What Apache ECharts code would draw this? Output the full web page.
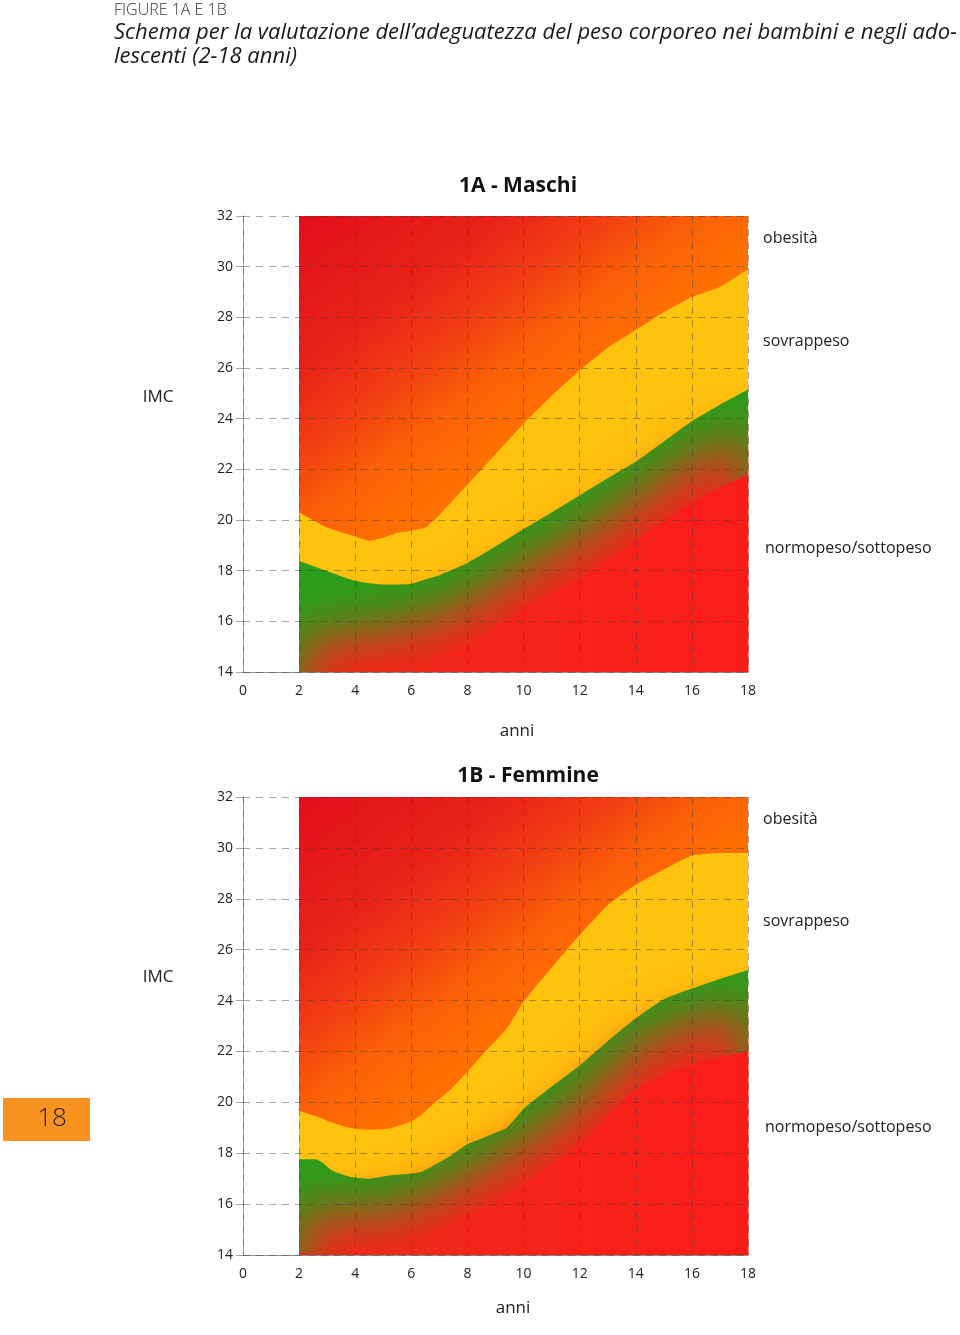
<!DOCTYPE html>
<html>
<head>
<meta charset="utf-8">
<script src="https://cdn.jsdelivr.net/npm/echarts@6/dist/echarts.min.js"></script>
<style>
html,body{margin:0;padding:0;background:#fff;}
#c{width:960px;height:1335px;}
</style>
</head>
<body>
<div id="c"></div>
<script>
// ---------- data ----------
const xTicks = [0, 2, 4, 6, 8, 10, 12, 14, 16, 18];
const yTicks = [14, 16, 18, 20, 22, 24, 26, 28, 30, 32];

// 1A - Maschi
const ageA   = [2, 3, 4, 4.5, 5, 5.5, 6, 6.5, 7, 8, 9, 10, 11, 12, 13, 14, 15, 16, 17, 18];
const obeseA = [20.3, 19.7, 19.35, 19.18, 19.3, 19.5, 19.58, 19.7, 20.2, 21.4, 22.6, 23.8, 24.9, 25.9, 26.8, 27.5, 28.2, 28.8, 29.2, 29.9];
const overA  = [18.38, 17.98, 17.6, 17.5, 17.45, 17.45, 17.48, 17.65, 17.82, 18.3, 18.95, 19.64, 20.3, 20.97, 21.65, 22.3, 23.1, 23.9, 24.55, 25.15];

// 1B - Femmine
const ageB   = [2, 2.6, 2.9, 3.2, 3.8, 4.5, 5.2, 6, 6.3, 6.7, 7.4, 8, 8.6, 9.4, 10, 11, 12, 13, 14, 15, 16, 17, 18];
const obeseB = [19.67, 19.45, 19.33, 19.2, 19.0, 18.92, 18.97, 19.25, 19.45, 19.85, 20.5, 21.2, 21.95, 22.9, 23.95, 25.3, 26.58, 27.75, 28.55, 29.15, 29.7, 29.8, 29.8];
const overB  = [17.76, 17.76, 17.57, 17.3, 17.08, 17.0, 17.12, 17.2, 17.25, 17.46, 17.9, 18.36, 18.62, 19.0, 19.74, 20.62, 21.45, 22.4, 23.3, 24.05, 24.47, 24.85, 25.2];

// line below which the lower band has turned fully red
const ageT   = [2, 4, 6, 8, 10, 12, 14, 16, 18];
const transA = [13.6, 13.9, 14.3, 15.1, 16.5, 17.7, 19.2, 20.7, 21.8];
const transB = [14.1, 14.0, 14.4, 15.5, 16.8, 18.4, 20.5, 21.5, 22.0];

// ---------- texts ----------
const headLine1 = 'FIGURE 1A E 1B';
const headLine2 = 'Schema per la valutazione dell\u2019adeguatezza del peso corporeo nei bambini e negli ado-';
const headLine3 = 'lescenti (2-18 anni)';

// ---------- layout / style ----------
const FONT = '"Open Sans", "Noto Sans", sans-serif';
const GL = 243, GW = 505;
const panels = [
  {top: 216, height: 456},
  {top: 797, height: 458}
];
const step = GW / (xTicks[xTicks.length - 1] - xTicks[0]);
const colorLeft = GL + step * (ageA[0] - xTicks[0]);
const colorW = GW - step * (ageA[0] - xTicks[0]);
const gridLineColor = 'rgba(60,60,60,0.45)';

function zip(xs, ys) { return xs.map((x, i) => [x, ys[i]]); }

function topGrad() {
  return new echarts.graphic.LinearGradient(0, 0, 0.56, 1.0, [
    {offset: 0, color: '#e30f1b'},
    {offset: 0.3, color: '#e82219'},
    {offset: 0.45, color: '#f03c13'},
    {offset: 0.6, color: '#fb6007'},
    {offset: 0.75, color: '#ff7000'},
    {offset: 1, color: '#ff7800'}
  ]);
}
function redFill() {
  return new echarts.graphic.LinearGradient(0, 0, 1, 0, [
    {offset: 0, color: '#dc321a'},
    {offset: 0.35, color: '#f3261a'},
    {offset: 1, color: '#fb1c19'}
  ]);
}

function bands(idx, age, obese, over, trans) {
  const common = {
    type: 'line', xAxisIndex: idx, yAxisIndex: idx, symbol: 'none', smooth: 0.15,
    silent: true, animation: false, lineStyle: {width: 0.01, opacity: 0}
  };
  return [
    Object.assign({}, common, {name: 'obesità', data: zip(age, obese), z: 1,
      areaStyle: {origin: 'end', opacity: 1, color: topGrad()}}),
    Object.assign({}, common, {name: 'sovrappeso', data: zip(age, obese), z: 2,
      areaStyle: {origin: 'start', opacity: 1, color: '#ffc20d'}}),
    Object.assign({}, common, {name: 'normopeso', data: zip(age, over), z: 3,
      areaStyle: {origin: 'start', opacity: 1, color: '#2c9c1a'}}),
    Object.assign({}, common, {name: 'sottopeso', data: zip(ageT, trans), z: 4, smooth: 0.3,
      areaStyle: {origin: 8, opacity: 1, color: redFill(),
        shadowBlur: 50, shadowColor: '#f2261a', shadowOffsetY: -42}})
  ];
}

const grids = [], xAxes = [], yAxes = [];
panels.forEach((p) => {
  grids.push({left: GL, top: p.top, width: GW, height: p.height, outerBoundsMode: 'none', containLabel: false});
  grids.push({left: colorLeft, top: p.top, width: colorW, height: p.height, outerBoundsMode: 'none', containLabel: false,
    show: true, backgroundColor: '#ff6a00', borderWidth: 0});
  const gi = grids.length - 2;
  xAxes.push({
    gridIndex: gi, type: 'value', min: xTicks[0], max: xTicks[xTicks.length - 1], interval: xTicks[1] - xTicks[0], z: 6,
    axisLine: {show: true, onZero: false, lineStyle: {color: 'rgba(70,70,70,0.6)', width: 1}},
    axisTick: {show: false},
    axisLabel: {margin: 12, fontSize: 14, color: '#222', fontFamily: FONT},
    splitLine: {show: true, lineStyle: {type: [7, 6], color: gridLineColor, width: 1}}
  });
  xAxes.push({gridIndex: gi + 1, type: 'value', min: ageA[0], max: xTicks[xTicks.length - 1], show: false});
  yAxes.push({
    gridIndex: gi, type: 'value', min: yTicks[0], max: yTicks[yTicks.length - 1], interval: yTicks[1] - yTicks[0], z: 6,
    axisLine: {show: true, onZero: false, lineStyle: {color: 'rgba(70,70,70,0.45)', width: 1}},
    axisTick: {show: true, length: 7, lineStyle: {color: gridLineColor}},
    axisLabel: {margin: 10, fontSize: 14, color: '#222', fontFamily: FONT},
    splitLine: {show: true, lineStyle: {type: [7, 6], color: gridLineColor, width: 1}}
  });
  yAxes.push({gridIndex: gi + 1, type: 'value', min: yTicks[0], max: yTicks[yTicks.length - 1], show: false});
});

const series = [].concat(
  bands(1, ageA, obeseA, overA, transA),
  bands(3, ageB, obeseB, overB, transB)
);

// fit the condensed italic header width
const mctx = document.createElement('canvas').getContext('2d');
const italicFont = 'italic 21px "Open Sans"';
mctx.font = italicFont;
const headScale = 843 / mctx.measureText(headLine2).width;

function txt(x, y, text, font, opts) {
  return Object.assign({type: 'text', x: x, y: y, silent: true,
    style: Object.assign({text: text, font: font, fill: '#222', align: 'left', verticalAlign: 'middle'}, (opts && opts.style) || {})},
    (opts && opts.el) || {});
}

const graphic = [
  txt(114, 10, headLine1, '300 16px ' + FONT, {style: {fill: '#333'}}),
  txt(114, 33, headLine2, italicFont, {el: {scaleX: headScale}, style: {fill: '#1a1a1a'}}),
  txt(114, 57, headLine3, italicFont, {el: {scaleX: headScale}, style: {fill: '#1a1a1a'}}),
  txt(518, 186, '1A - Maschi', 'bold 21px ' + FONT, {style: {align: 'center', fill: '#111'}}),
  txt(528, 776, '1B - Femmine', 'bold 21px ' + FONT, {style: {align: 'center', fill: '#111'}}),
  txt(158, 397, 'IMC', '17px ' + FONT, {style: {align: 'center'}}),
  txt(158, 977, 'IMC', '17px ' + FONT, {style: {align: 'center'}}),
  txt(517, 731, 'anni', '17px ' + FONT, {style: {align: 'center'}}),
  txt(513, 1308, 'anni', '17px ' + FONT, {style: {align: 'center'}}),
  txt(763, 238, 'obesità', '16px ' + FONT),
  txt(763, 341, 'sovrappeso', '16px ' + FONT),
  txt(765, 548, 'normopeso/sottopeso', '16px ' + FONT),
  txt(763, 819, 'obesità', '16px ' + FONT),
  txt(763, 921, 'sovrappeso', '16px ' + FONT),
  txt(765, 1127, 'normopeso/sottopeso', '16px ' + FONT),
  {type: 'rect', silent: true, shape: {x: 3, y: 1098, width: 87, height: 43}, style: {fill: '#f7931e'}},
  txt(52, 1119, '18', '300 26px ' + FONT, {style: {align: 'center', fill: '#222'}})
];

const chart = echarts.init(document.getElementById('c'), null, {renderer: 'canvas', width: 960, height: 1335});
chart.setOption({
  animation: false,
  backgroundColor: '#ffffff',
  grid: grids,
  xAxis: xAxes,
  yAxis: yAxes,
  series: series,
  graphic: graphic
});
</script>
</body>
</html>
